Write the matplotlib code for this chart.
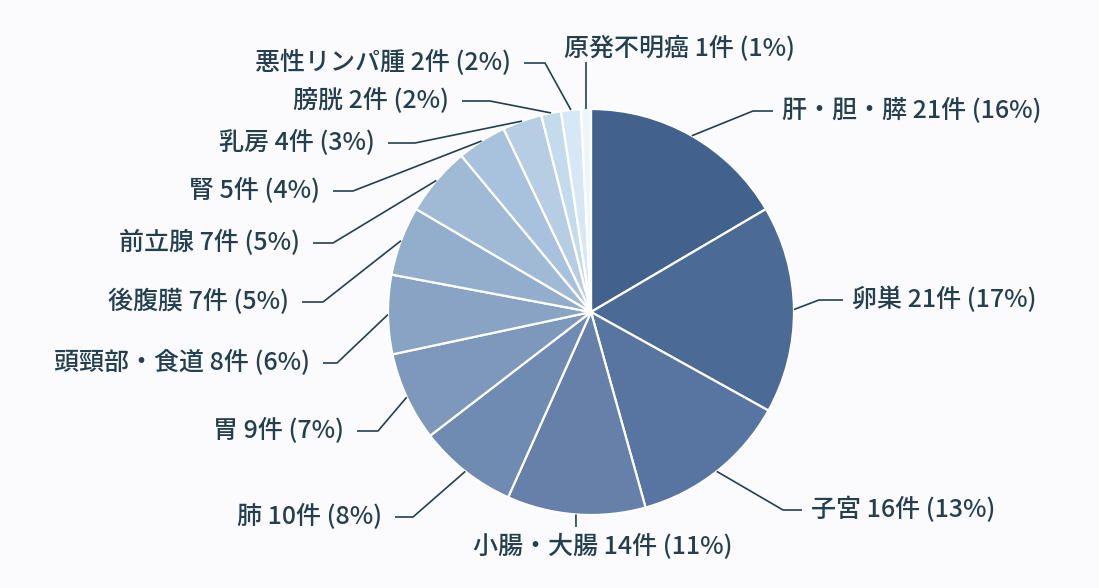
import matplotlib
matplotlib.use("Agg")
import matplotlib.pyplot as plt
import numpy as np

plt.rcParams['font.family'] = ['Noto Sans CJK JP', 'DejaVu Sans']

# data
sites = ['肝・胆・膵', '卵巣', '子宮', '小腸・大腸', '肺', '胃', '頭頸部・食道',
         '後腹膜', '前立腺', '腎', '乳房', '膀胱', '悪性リンパ腫', '原発不明癌']
counts = [21, 21, 16, 14, 10, 9, 8, 7, 7, 5, 4, 2, 2, 1]
percents = [16, 17, 13, 11, 8, 7, 6, 5, 5, 4, 3, 2, 2, 1]
colors = ['#42618c', '#4b6a96', '#5874a0', '#6680aa', '#6f8bb2', '#7e98bc',
          '#88a3c4', '#93aecd', '#a0bad6', '#a8c1dc', '#b6cde4', '#c4daed',
          '#d6e8f5', '#eef6fc']

# label layout in pixel coords (top-left origin): elbow x, elbow y, line end x, text anchor
W, H = 1099, 588
label_layout = [
    (753, 111, 773, 'left'),
    (819, 300, 843, 'left'),
    (783, 510, 802, 'left'),
    (576, 527, 576, 'below'),
    (413, 517, 395, 'right'),
    (378, 431, 357, 'right'),
    (337, 363, 323, 'right'),
    (323, 302, 302, 'right'),
    (333, 243, 313, 'right'),
    (353, 191, 333, 'right'),
    (415, 143, 388, 'right'),
    (490, 101, 462, 'right'),
    (545, 63, 524, 'right'),
    (586, 62, 586, 'above'),
]

text_color = '#24404f'
bg = '#fbfbfd'

fig = plt.figure(figsize=(W / 100, H / 100), dpi=100, facecolor=bg)
ax = fig.add_axes([0, 0, 1, 1])
ax.set_facecolor(bg)

cx, cy, r = 591, H - 312, 203
wedges, _ = ax.pie(counts, colors=colors, startangle=90, counterclock=False,
                   center=(cx, cy), radius=r,
                   wedgeprops=dict(edgecolor='white', linewidth=1.6))

ax.set_xlim(0, W)
ax.set_ylim(0, H)
ax.set_aspect('equal')
ax.axis('off')

for w, site, n, p, (ex, ey, lx, side) in zip(wedges, sites, counts, percents, label_layout):
    mid = np.deg2rad((w.theta1 + w.theta2) / 2)
    sx, sy = cx + r * np.cos(mid), cy + r * np.sin(mid)
    ey_d = H - ey
    ax.plot([sx, ex, lx], [sy, ey_d, ey_d], color=text_color, lw=1.2,
            solid_capstyle='butt')
    label = f'{site} {n}件 ({p}%)'
    kw = dict(color=text_color, fontsize=18, fontweight='medium')
    if side == 'left':
        ax.text(lx + 9, ey_d, label, ha='left', va='center', **kw)
    elif side == 'right':
        ax.text(lx - 13, ey_d, label, ha='right', va='center', **kw)
    elif side == 'below':
        ax.text(lx + 27, ey_d - 20, label, ha='center', va='center', **kw)
    else:
        ax.text(lx + 94, ey_d + 13, label, ha='center', va='center', **kw)

fig.savefig('out.png', dpi=100, facecolor=bg)
